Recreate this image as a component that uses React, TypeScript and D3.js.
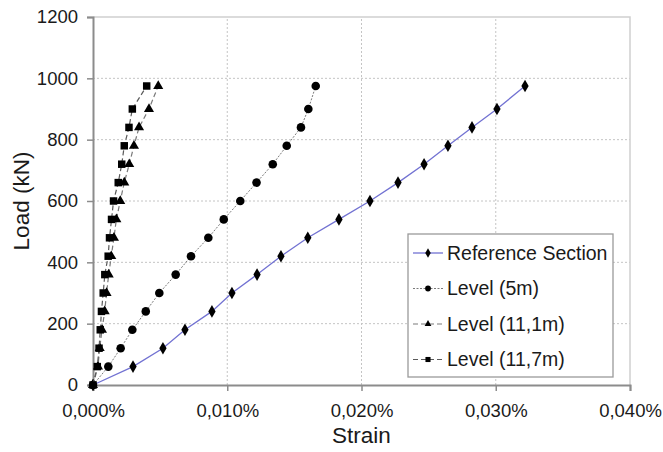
import React, { useEffect, useRef } from 'react';
import * as d3 from 'd3';

// load steps (kN), shared by all series
const loads = [0, 60, 120, 180, 240, 300, 360, 420, 480, 540, 600, 660, 720, 780, 840, 900, 975];

// strain values (%)
const referenceSection = [0, 0.00298, 0.00521, 0.00685, 0.00886, 0.01035, 0.01222, 0.0140, 0.0160, 0.01832, 0.02063, 0.02272, 0.02466, 0.02644, 0.02823, 0.03009, 0.03218];
const level5m = [0, 0.00114, 0.00206, 0.00293, 0.00393, 0.00494, 0.00616, 0.0073, 0.00859, 0.00974, 0.01097, 0.01218, 0.01339, 0.01443, 0.01549, 0.01604, 0.01659];
const level11_1m = [0, 0.00037, 0.0005, 0.00067, 0.00087, 0.00101, 0.00117, 0.00136, 0.00156, 0.00174, 0.00203, 0.00233, 0.0027, 0.00305, 0.00343, 0.00417, 0.00486];
const level11_7m = [0, 0.00032, 0.00045, 0.00054, 0.00063, 0.00076, 0.00088, 0.00113, 0.00123, 0.00138, 0.00153, 0.00188, 0.00214, 0.00233, 0.00268, 0.00293, 0.004];

const seriesNames = ['Reference Section', 'Level (5m)', 'Level (11,1m)', 'Level (11,7m)'];
const xTicks = [0, 0.01, 0.02, 0.03, 0.04];
const yTicks = [0, 200, 400, 600, 800, 1000, 1200];

const FONT = 'Arial, "Liberation Sans", sans-serif';

const App = () => {
  const svgRef = useRef<SVGSVGElement | null>(null);

  useEffect(() => {
    const svg = d3.select(svgRef.current);
    svg.selectAll('*').remove();

    const x = d3.scaleLinear().domain([0, 0.04]).range([93, 630]);
    const y = d3.scaleLinear().domain([0, 1200]).range([385, 17]);

    // gridlines
    const grid = svg.append('g');
    grid
      .selectAll('.hg')
      .data(yTicks.filter((t) => t > 0 && t < 1200))
      .enter()
      .append('line')
      .attr('x1', x(0))
      .attr('x2', x(0.04))
      .attr('y1', (d) => y(d))
      .attr('y2', (d) => y(d))
      .attr('stroke', '#c4c4c4')
      .attr('stroke-dasharray', '2,2');
    grid
      .selectAll('.vg')
      .data(xTicks.filter((t) => t > 0 && t < 0.04))
      .enter()
      .append('line')
      .attr('y1', y(0))
      .attr('y2', y(1200))
      .attr('x1', (d) => x(d))
      .attr('x2', (d) => x(d))
      .attr('stroke', '#c4c4c4')
      .attr('stroke-dasharray', '2,2');

    // light frame on top and right
    svg
      .append('path')
      .attr('d', `M${x(0)},${y(1200)}H${x(0.04)}V${y(0)}`)
      .attr('fill', 'none')
      .attr('stroke', '#d0d0d0')
      .attr('stroke-width', 1.5);

    // axes
    const xAxis = svg
      .append('g')
      .attr('transform', `translate(0,${y(0)})`)
      .call(
        d3
          .axisBottom(x)
          .tickValues(xTicks)
          .tickSize(6)
          .tickPadding(13)
          .tickFormat((d) => d3.format('.3f')(d as number).replace('.', ',') + '%')
      );
    const yAxis = svg
      .append('g')
      .attr('transform', `translate(${x(0)},0)`)
      .call(
        d3
          .axisLeft(y)
          .tickValues(yTicks)
          .tickSize(6)
          .tickPadding(9)
          .tickFormat((d) => String(d))
      );

    [xAxis, yAxis].forEach((g) => {
      g.select('.domain').attr('stroke', '#8c8c8c').attr('stroke-width', 2);
      g.selectAll('.tick line').attr('stroke', '#8c8c8c').attr('stroke-width', 1.5);
      g.selectAll('.tick text')
        .attr('fill', '#1a1a1a')
        .attr('font-size', 18.5)
        .attr('font-family', FONT);
    });

    // axis titles
    svg
      .append('text')
      .attr('x', (x(0) + x(0.04)) / 2)
      .attr('y', 443)
      .attr('text-anchor', 'middle')
      .attr('font-size', 22.5)
      .attr('font-family', FONT)
      .attr('fill', '#1a1a1a')
      .text('Strain');
    svg
      .append('text')
      .attr('transform', `translate(29,${(y(0) + y(1200)) / 2}) rotate(-90)`)
      .attr('text-anchor', 'middle')
      .attr('font-size', 22.5)
      .attr('font-family', FONT)
      .attr('fill', '#1a1a1a')
      .text('Load (kN)');

    const allSeries = [
      { name: seriesNames[0], values: referenceSection, color: '#7272d2', width: 1.3, dash: null, symbol: d3.symbolDiamond, size: 46, legendSize: 26 },
      { name: seriesNames[1], values: level5m, color: '#7a7a7a', width: 1, dash: '2,1.5', symbol: d3.symbolCircle, size: 58, legendSize: 26 },
      { name: seriesNames[2], values: level11_1m, color: '#7a7a7a', width: 1.2, dash: '5,3', symbol: d3.symbolTriangle, size: 44, legendSize: 20 },
      { name: seriesNames[3], values: level11_7m, color: '#5a5a5a', width: 1.2, dash: '5,3', symbol: d3.symbolSquare, size: 56, legendSize: 26 },
    ];

    const line = d3
      .line<[number, number]>()
      .x((d) => x(d[0]))
      .y((d) => y(d[1]));

    allSeries.forEach((s) => {
      const pts: [number, number][] = s.values.map((v, i) => [v, loads[i]]);
      svg
        .append('path')
        .attr('d', line(pts))
        .attr('fill', 'none')
        .attr('stroke', s.color)
        .attr('stroke-width', s.width)
        .attr('stroke-dasharray', s.dash);
      svg
        .append('g')
        .selectAll('path')
        .data(pts)
        .enter()
        .append('path')
        .attr('transform', (d) => `translate(${x(d[0])},${y(d[1])})`)
        .attr('d', d3.symbol().type(s.symbol).size(s.size)())
        .attr('fill', '#000');
    });

    // legend
    const legend = svg.append('g').attr('transform', 'translate(408,234)');
    legend
      .append('rect')
      .attr('width', 205)
      .attr('height', 143)
      .attr('fill', '#fff')
      .attr('stroke', '#9a9a9a')
      .attr('stroke-width', 1.3);
    allSeries.forEach((s, i) => {
      const ly = 19 + i * 35.5;
      legend
        .append('line')
        .attr('x1', 5)
        .attr('x2', 35)
        .attr('y1', ly)
        .attr('y2', ly)
        .attr('stroke', s.color)
        .attr('stroke-width', s.width)
        .attr('stroke-dasharray', s.dash);
      legend
        .append('path')
        .attr('transform', `translate(20,${ly})`)
        .attr('d', d3.symbol().type(s.symbol).size(s.legendSize)())
        .attr('fill', '#000');
      legend
        .append('text')
        .attr('x', 39)
        .attr('y', ly)
        .attr('dy', '0.35em')
        .attr('font-size', 19.5)
        .attr('font-family', FONT)
        .attr('fill', '#1a1a1a')
        .text(s.name);
    });
  }, []);

  return (
    <svg
      ref={svgRef}
      width={663}
      height={452}
      style={{ position: 'absolute', left: 0, top: 0, background: '#fff' }}
    />
  );
};

export default App;
